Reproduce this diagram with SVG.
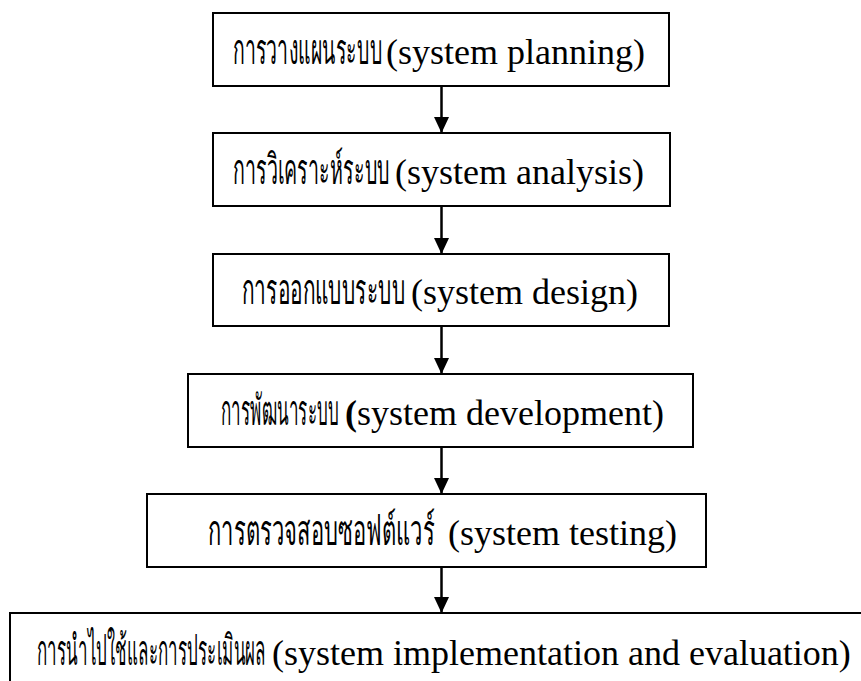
<svg xmlns="http://www.w3.org/2000/svg" width="861" height="681" viewBox="0 0 861 681">
  <defs>
    <marker id="arrow" viewBox="0 0 16 15" refX="16" refY="7.5" markerWidth="16" markerHeight="15" markerUnits="userSpaceOnUse" orient="auto">
      <path d="M0,0 L16,7.5 L0,15 Z" fill="#000"/>
    </marker>
  </defs>
  <style>
    .box { fill: #fff; stroke: #000; stroke-width: 2; }
    .th { font-family: "Liberation Serif", "Noto Sans", serif; font-size: 42px; fill: #000; }
    .en { font-family: "Liberation Serif", serif; font-size: 36px; fill: #000; }
    .conn { stroke: #000; stroke-width: 2.5; fill: none; }
  </style>
  <rect width="861" height="681" fill="#fff"/>

  <!-- process steps: Thai label squeezed to its column, English label after it -->
  <g id="planning">
    <rect class="box" x="213" y="13" width="456" height="73"/>
    <text class="th" x="233" y="64" textLength="149" lengthAdjust="spacingAndGlyphs">การวางแผนระบบ</text>
    <text class="en" x="386" y="64">(system planning)</text>
  </g>
  <g id="analysis">
    <rect class="box" x="213" y="133" width="457" height="73"/>
    <text class="th" x="233" y="184" textLength="157" lengthAdjust="spacingAndGlyphs">การวิเคราะห์ระบบ</text>
    <text class="en" x="395" y="184">(system analysis)</text>
  </g>
  <g id="design">
    <rect class="box" x="213" y="254" width="456" height="72"/>
    <text class="th" x="242" y="304" textLength="163" lengthAdjust="spacingAndGlyphs">การออกแบบระบบ</text>
    <text class="en" x="411" y="304">(system design)</text>
  </g>
  <g id="development">
    <rect class="box" x="188" y="374" width="505" height="73"/>
    <text class="th" x="221" y="425" textLength="118" lengthAdjust="spacingAndGlyphs">การพัฒนาระบบ</text>
    <text class="en" x="345" y="425"><tspan font-weight="bold">(</tspan>system development)</text>
  </g>
  <g id="testing">
    <rect class="box" x="147" y="494" width="559" height="73"/>
    <text class="th" x="208" y="545" textLength="227" lengthAdjust="spacingAndGlyphs">การตรวจสอบซอฟต์แวร์</text>
    <text class="en" x="448" y="545">(system testing)</text>
  </g>
  <g id="implementation">
    <rect class="box" x="10" y="613" width="900" height="120"/>
    <text class="th" x="37" y="665" textLength="229" lengthAdjust="spacingAndGlyphs">การนำไปใช้และการประเมินผล</text>
    <text class="en" x="272" y="665">(system implementation and evaluation)</text>
  </g>

  <!-- flow arrows -->
  <g id="connectors">
    <line class="conn" x1="441.5" y1="86" x2="441.5" y2="133" marker-end="url(#arrow)"/>
    <line class="conn" x1="441.5" y1="206" x2="441.5" y2="254" marker-end="url(#arrow)"/>
    <line class="conn" x1="441.5" y1="326" x2="441.5" y2="374" marker-end="url(#arrow)"/>
    <line class="conn" x1="441.5" y1="447" x2="441.5" y2="494" marker-end="url(#arrow)"/>
    <line class="conn" x1="441.5" y1="567" x2="441.5" y2="613" marker-end="url(#arrow)"/>
  </g>
</svg>
